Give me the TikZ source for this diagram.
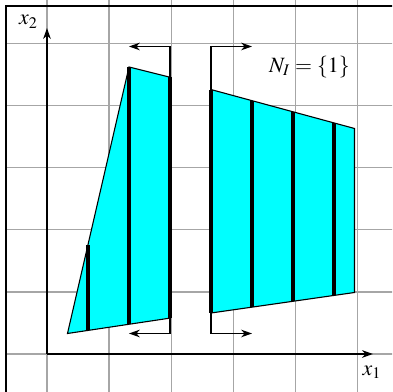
\documentclass[tikz,border=0pt]{standalone}
\usepackage{mathptmx}
\usetikzlibrary{arrows.meta}
\definecolor{aqua}{RGB}{0,255,255}
\tikzset{
  gridln/.style={draw=gray!70, line width=0.65pt},
  framel/.style={draw=black, line width=0.7pt},
  axisl/.style={-{Stealth[length=5pt,width=3.5pt]}, line width=0.7pt},
  piece/.style={fill=aqua, draw=black, line width=0.5pt},
  cutl/.style={line width=1.6pt},
  moveln/.style={-{Stealth[length=5pt,width=3.5pt]}, line width=0.5pt},
}

\begin{document}
\begin{tikzpicture}[x=0.66cm, y=0.66cm]

  % ---- size and grid ----
  \useasboundingbox (-1.146,-0.927) rectangle (8.415,8.634);
  \clip (-1.146,-0.927) rectangle (8.415,8.634);
  \draw[gridln] (-1,-1) grid (9,9);
  \draw[framel] (-1,-1.5) -- (-1,8.49) -- (9,8.49);

  % ---- corners of the two pieces ----
  \coordinate (la) at (0.5,0.5);
  \coordinate (lb) at (3,0.875);
  \coordinate (lc) at (3,6.75);
  \coordinate (ld) at (2,7);
  \coordinate (ra) at (4,1);
  \coordinate (rb) at (7.5,1.5);
  \coordinate (rc) at (7.5,5.5);
  \coordinate (rd) at (4,6.45);

  % ---- pieces ----
  \filldraw[piece] (la) -- (lb) -- (lc) -- (ld) -- cycle;
  \filldraw[piece] (ra) -- (rb) -- (rc) -- (rd) -- cycle;

  % ---- cuts ----
  \draw[cutl] (1,0.575) -- (1,2.667);
  \draw[cutl] (2,0.725) -- (ld);
  \draw[cutl] (lb) -- (lc);
  \draw[cutl] (ra) -- (rd);
  \draw[cutl] (5,1.143) -- (5,6.179);
  \draw[cutl] (6,1.286) -- (6,5.907);
  \draw[cutl] (7,1.429) -- (7,5.636);

  % ---- moves ----
  \coordinate (lt) at (2,7.5);
  \coordinate (lu) at (2,0.5);
  \coordinate (rt) at (5,7.5);
  \coordinate (ru) at (5,0.5);
  \draw[moveln] (lc) |- (lt);
  \draw[moveln] (lb) |- (lu);
  \draw[moveln] (rd) |- (rt);
  \draw[moveln] (ra) |- (ru);

  % ---- axes ----
  \coordinate (o) at (0,0);
  \coordinate (xe) at (7.95,0);
  \coordinate (ye) at (0,7.95);
  \draw[axisl] (o) -- (xe);
  \draw[axisl] (o) -- (ye);

  % ---- labels ----
  \node (xl) at (7.93,-0.45) {$x_1$};
  \node (yl) at (-0.45,8.1) {$x_2$};
  \node (ni) at (6.4,7) {$N_I=\{1\}$};
\end{tikzpicture}
\end{document}
